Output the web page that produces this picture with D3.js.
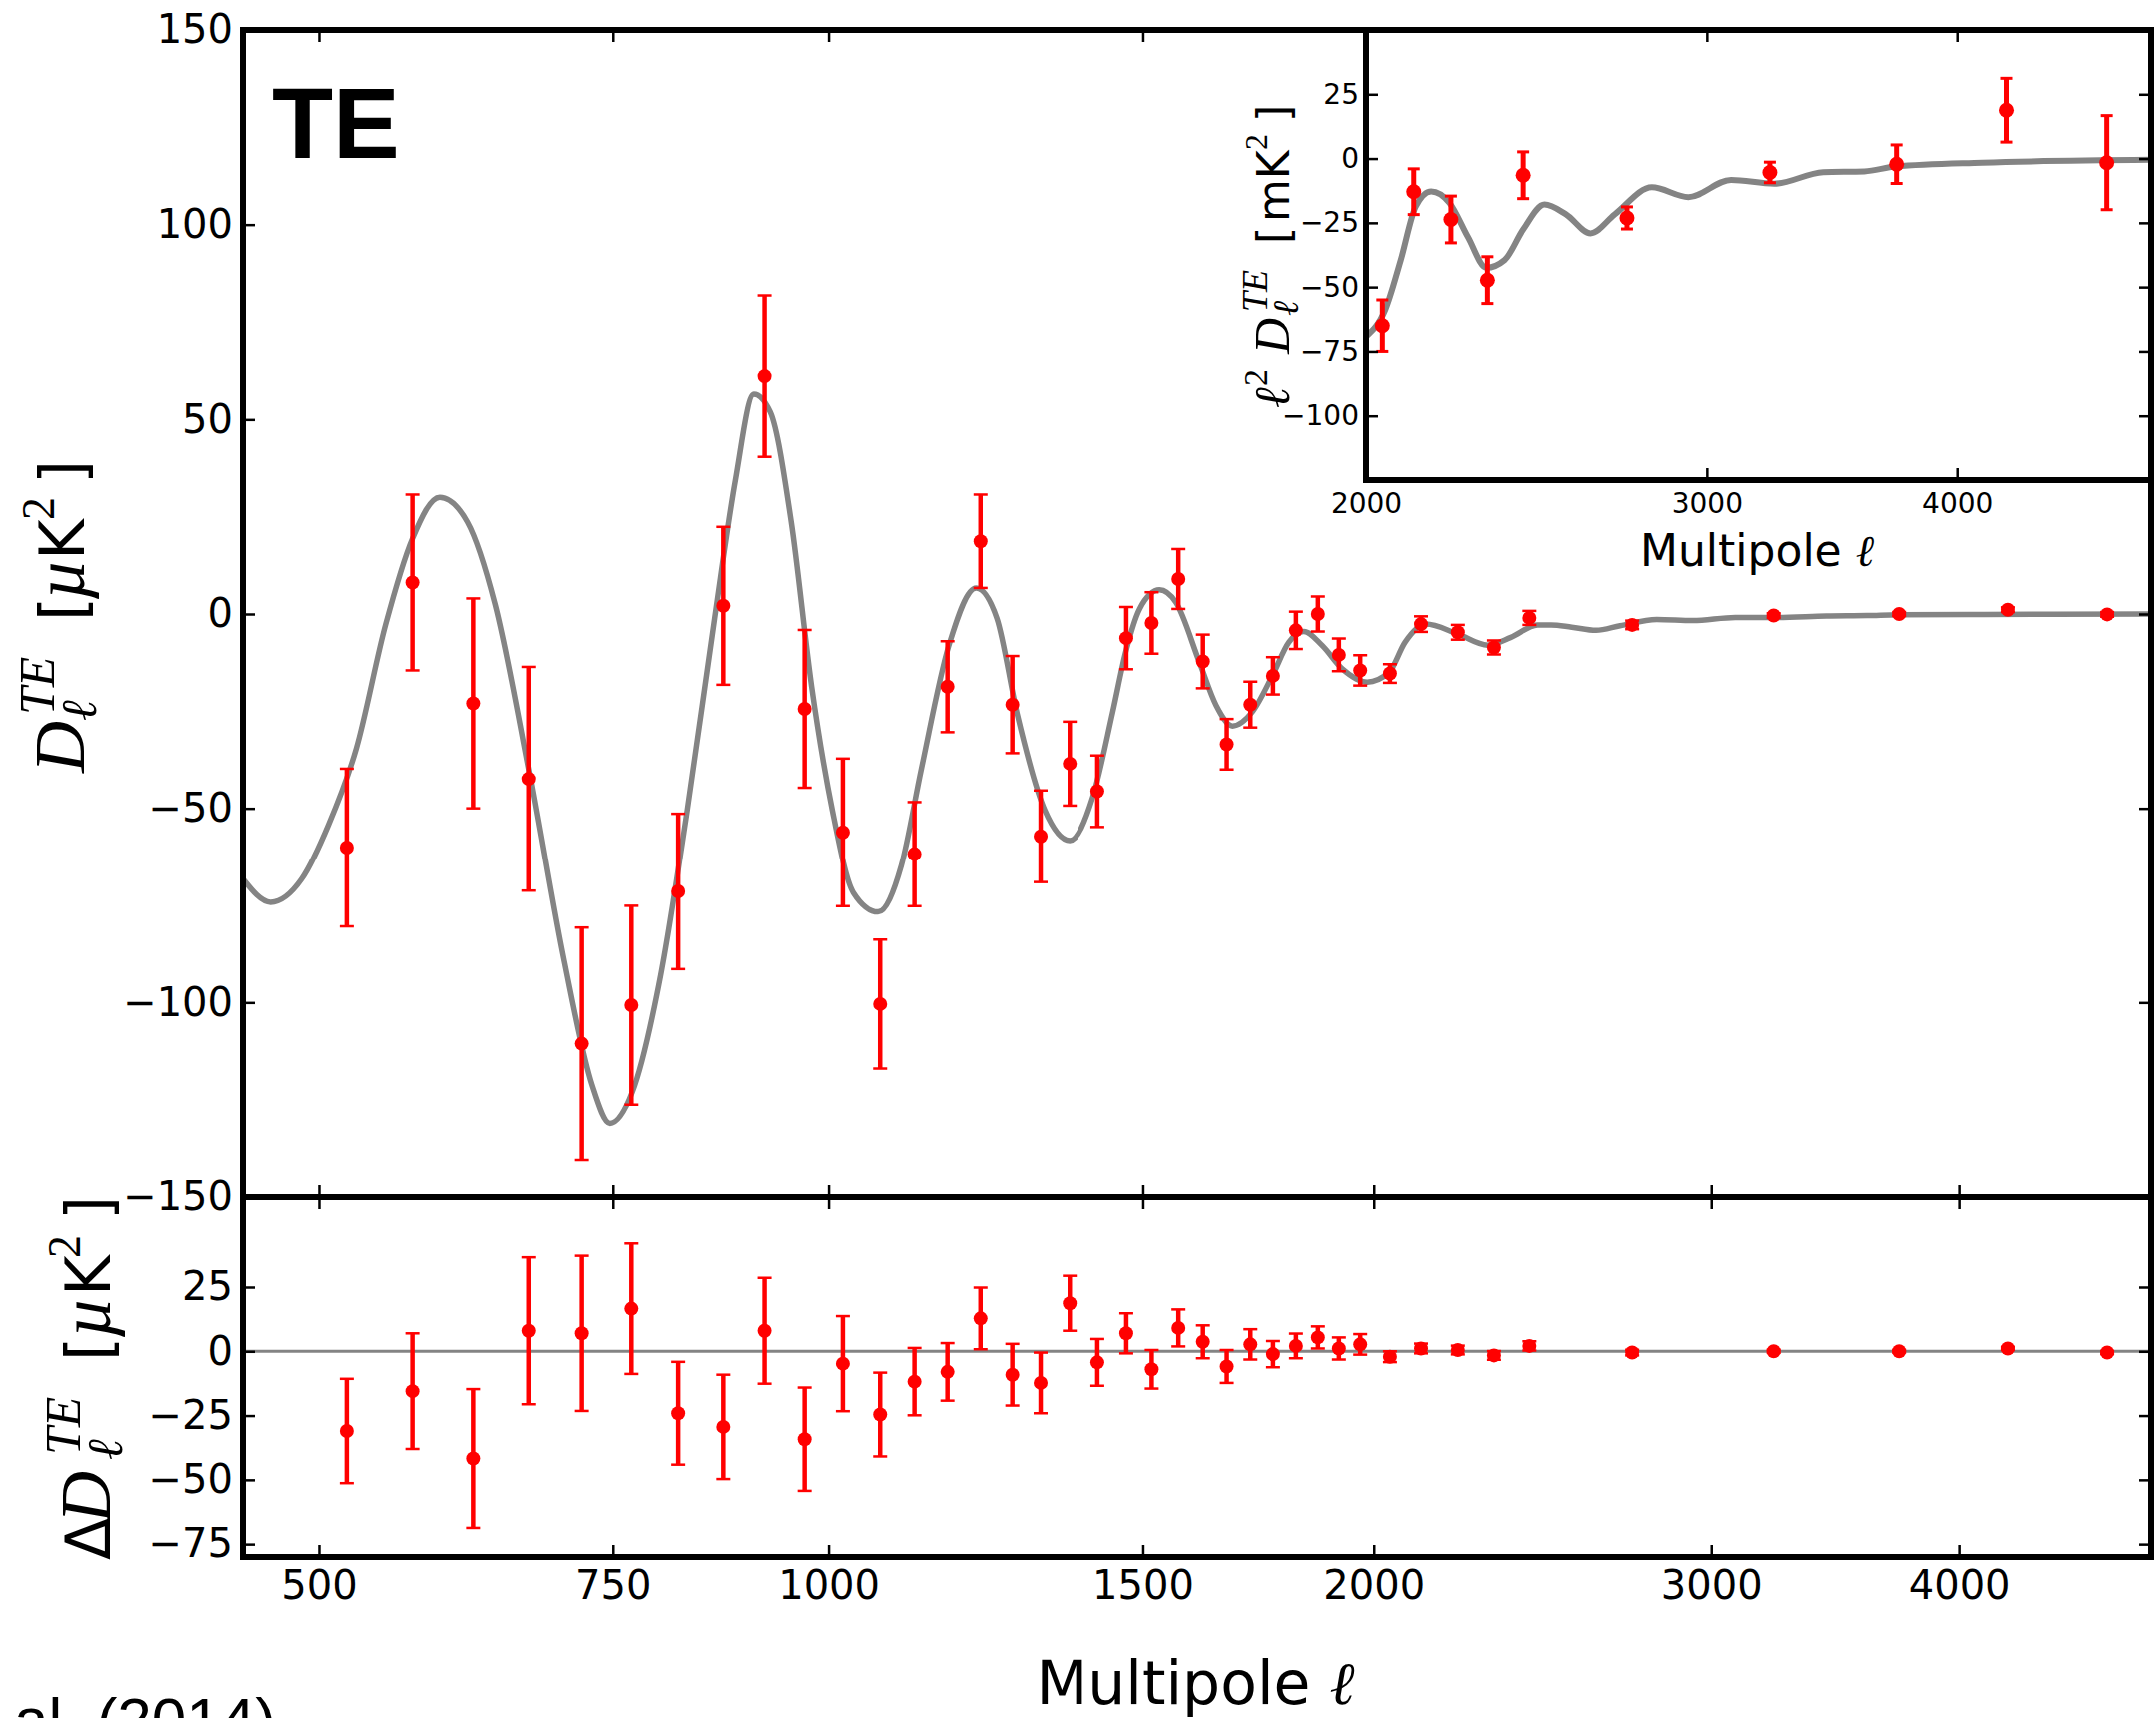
<!DOCTYPE html>
<html>
<head>
<meta charset="utf-8">
<script src="https://cdn.jsdelivr.net/npm/d3@7"></script>
<style>
body { margin: 0; background: #fff; }
svg { display: block; }
</style>
</head>
<body>
<div id="chart"></div>
<script>
// multipole bin centres, shared by the main and residual panels
var ells = [520, 570, 620, 669, 719, 769, 819, 870, 919, 969,
            1019, 1070, 1119, 1168, 1219, 1270, 1317, 1367, 1416, 1469,
            1517, 1569, 1618, 1667, 1717, 1766, 1817, 1867, 1916, 1967,
            2040, 2119, 2216, 2315, 2416, 2732, 3228, 3734, 4229, 4731]

// D_l^TE band powers and errors [uK^2]
var dTE = [-60.1, 8.1, -23.0, -42.4, -110.6, -100.7, -71.4, 2.1, 61.1, -24.4,
           -56.2, -100.4, -61.8, -18.7, 18.7, -23.3, -57.2, -38.5, -45.6, -6.2,
           -2.3, 9.0, -12.2, -33.5, -23.3, -15.9, -4.2, 0.0, -10.5, -14.5,
           -15.3, -2.6, -4.7, -8.6, -1.0, -2.8, -0.4, 0.0, 1.1, -0.1]
var dTEerr = [20.3, 22.6, 27, 28.8, 29.9, 25.6, 20, 20.3, 20.7, 20.3,
              19, 16.6, 13.4, 11.7, 12, 12.5, 11.8, 10.8, 9.2, 8.0,
              7.9, 7.7, 6.9, 6.5, 5.9, 4.8, 4.8, 4.5, 4.2, 3.9,
              2.4, 2.0, 1.9, 1.8, 1.8, 1.1, 0.6, 0.5, 0.6, 0.6]

// residuals (data - model)
var resid = [-31, -15.5, -41.7, 8.0, 7.0, 16.6, -24.1, -29.4, 8.0, -34.2,
             -4.8, -24.6, -11.8, -8.0, 12.8, -9.1, -12.3, 18.7, -4.3, 7.0,
             -7.0, 9.1, 3.7, -5.9, 2.7, -1.1, 2.1, 5.4, 1.1, 2.7,
             -2.1, 1.1, 0.5, -1.6, 2.1, -0.5, 0, 0, 1.1, -0.5]
var residErr = [20.3, 22.5, 27, 28.6, 30.2, 25.4, 20, 20.3, 20.6, 20.1,
                18.5, 16.3, 13.1, 11.2, 12, 12, 11.8, 10.7, 9.1, 7.8,
                7.5, 7.2, 6.4, 6.4, 5.9, 5.1, 4.8, 4.3, 4.3, 4.0,
                2.1, 1.9, 1.7, 1.7, 1.8, 1.1, 0.6, 0.5, 0.6, 0.6]

// inset: l^2 D_l^TE for the high-l bins
var insetEll = ells.slice(30)
var insetVal = [-65, -12.9, -23.7, -47.3, -6.5, -23.1, -5.4, -2.2, 18.8, -1.6]
var insetErr = [10, 8.9, 9.1, 9.1, 9.1, 4.3, 4, 7.5, 12.4, 18.3]

// best fit model
var modelEll = [449, 467, 488, 507, 527, 549, 570, 592, 615, 639,
                669, 702, 729, 747, 770, 800, 829, 860, 884, 906,
                926, 952, 978, 1005, 1033, 1067, 1100, 1129, 1170, 1212,
                1245, 1278, 1324, 1367, 1408, 1444, 1468, 1494, 1532, 1564,
                1611, 1645, 1679, 1721, 1765, 1801, 1835, 1877, 1924, 1984,
                2038, 2078, 2131, 2215, 2298, 2363, 2440, 2480, 2542, 2617,
                2693, 2813, 2936, 3086, 3244, 3433, 3599, 3729, 4116, 4970]
var modelTE = [-68.2, -74.2, -68.2, -54.1, -34.6, -2.8, 19.4, 30.0, 23.7, 2.5,
               -39.9, -89.4, -121.2, -131.1, -123, -92.9, -50.5, -1.1, 34.3, 56.5,
               51.9, 23.7, -18.7, -50.5, -71.7, -76.7, -64.7, -39.9, -8.1, 6.7,
               -1.1, -25.8, -50.5, -58.3, -47, -25.2, -9.8, 1.3, 6.2, 3.0,
               -12.4, -23.5, -28.8, -25.2, -15.8, -7.3, -4.5, -8.1, -14.1, -17.5,
               -15.0, -7.3, -2.6, -5.1, -8.0, -6.0, -2.8, -2.8, -3.4, -4.2,
               -3.0, -1.4, -1.7, -0.9, -0.9, -0.5, -0.4, -0.2, -0.1, 0]

var insetModelEll = [2000, 2047, 2086, 2124, 2164, 2212, 2262, 2312, 2363, 2416,
                     2478, 2542, 2617, 2693, 2813, 2936, 3086, 3244, 3433, 3599,
                     3729, 4116, 4970]
var insetModelVal = [-69.3, -58.9, -39.5, -18.7, -12.8, -17.2, -30.6, -42.5, -39.5, -27.6,
                     -17.9, -21.7, -29.1, -21.7, -11.2, -15.0, -8.3, -9.8, -5.3, -5.0,
                     -3.1, -1.6, -0.5]

var xTicks = [500, 750, 1000, 1500, 2000, 3000, 4000]
var yTicks = [-150, -100, -50, 0, 50, 100, 150]
var rTicks = [-75, -50, -25, 0, 25]
var iyTicks = [-100, -75, -50, -25, 0, 25]
var ixTicks = [2000, 3000, 4000]

var RED = '#ff0000', GREY = '#848484'
var SANS = 'DejaVu Sans', SERIF = 'Liberation Serif'

var W = 2157, H = 1719
var L = 243, R = 2152, T = 30, MB = 1198, RB = 1558
var IL = 1367, IB = 480

var svg = d3.select('#chart').append('svg').attr('width', W).attr('height', H)
svg.append('rect').attr('width', W).attr('height', H).attr('fill', '#fff')

var x = d3.scalePow().exponent(0.1).domain([449, 4970]).range([L, R])
var y = d3.scaleLinear().domain([-150, 150]).range([MB, T])
var yr = d3.scaleLinear().domain([-80, 60]).range([RB, MB])
var xi = d3.scalePow().exponent(0.1).domain([2000, 4970]).range([IL, R])
var yi = d3.scaleLinear().domain([-125, 50]).range([IB, T])

svg.append('clipPath').attr('id', 'mainclip').append('rect')
  .attr('x', L).attr('y', T).attr('width', R - L).attr('height', MB - T)

function styleAxis(g, size) {
  g.select('.domain').remove()
  g.selectAll('line').attr('stroke', '#000').attr('stroke-width', 2.5)
  g.selectAll('text').attr('font-family', SANS).attr('font-size', size).attr('fill', '#000')
}

function errorbars(g, xs, ys, ell, val, err, o) {
  var pts = ell.map(function (l, i) { return { l: l, v: val[i], e: err[i] } })
  var grp = g.append('g')
  grp.selectAll('line.bar').data(pts).enter().append('line')
    .attr('x1', function (d) { return xs(d.l) }).attr('x2', function (d) { return xs(d.l) })
    .attr('y1', function (d) { return ys(d.v - d.e) }).attr('y2', function (d) { return ys(d.v + d.e) })
    .attr('stroke', RED).attr('stroke-width', o.w)
  ;[-1, 1].forEach(function (s) {
    grp.selectAll('line.cap' + s).data(pts).enter().append('line')
      .attr('x1', function (d) { return xs(d.l) - o.cap }).attr('x2', function (d) { return xs(d.l) + o.cap })
      .attr('y1', function (d) { return ys(d.v + s * d.e) }).attr('y2', function (d) { return ys(d.v + s * d.e) })
      .attr('stroke', RED).attr('stroke-width', o.cw)
  })
  grp.selectAll('circle').data(pts).enter().append('circle')
    .attr('cx', function (d) { return xs(d.l) }).attr('cy', function (d) { return ys(d.v) })
    .attr('r', o.r).attr('fill', RED)
}

// ---- main panel
var line = d3.line()
  .x(function (d) { return x(d[0]) }).y(function (d) { return y(d[1]) })
  .curve(d3.curveMonotoneX)
svg.append('path').attr('clip-path', 'url(#mainclip)')
  .datum(modelEll.map(function (l, i) { return [l, modelTE[i]] }))
  .attr('d', line).attr('fill', 'none').attr('stroke', GREY).attr('stroke-width', 5.5)

errorbars(svg, x, y, ells, dTE, dTEerr, { w: 4.5, cap: 7, cw: 2.5, r: 7 })

styleAxis(svg.append('g').attr('transform', 'translate(' + L + ',0)')
  .call(d3.axisLeft(y).tickValues(yTicks).tickSize(-12).tickPadding(10)), 40)
styleAxis(svg.append('g').attr('transform', 'translate(' + R + ',0)')
  .call(d3.axisRight(y).tickValues(yTicks).tickSize(-12).tickFormat('')), 40)
styleAxis(svg.append('g').attr('transform', 'translate(0,' + T + ')')
  .call(d3.axisTop(x).tickValues(xTicks).tickSize(-12).tickFormat('')), 40)
styleAxis(svg.append('g').attr('transform', 'translate(0,' + MB + ')')
  .call(d3.axisBottom(x).tickValues(xTicks).tickSize(-12).tickFormat('')), 40)

svg.append('text').attr('x', 272).attr('y', 158)
  .attr('font-family', 'Liberation Sans').attr('font-weight', 'bold').attr('font-size', 100)
  .text('TE')

// ---- residual panel
svg.append('line').attr('x1', L).attr('x2', R).attr('y1', yr(0)).attr('y2', yr(0))
  .attr('stroke', GREY).attr('stroke-width', 3)
errorbars(svg, x, yr, ells, resid, residErr, { w: 4.5, cap: 7, cw: 2.5, r: 7 })

styleAxis(svg.append('g').attr('transform', 'translate(' + L + ',0)')
  .call(d3.axisLeft(yr).tickValues(rTicks).tickSize(-12).tickPadding(10)), 40)
styleAxis(svg.append('g').attr('transform', 'translate(' + R + ',0)')
  .call(d3.axisRight(yr).tickValues(rTicks).tickSize(-12).tickFormat('')), 40)
styleAxis(svg.append('g').attr('transform', 'translate(0,' + MB + ')')
  .call(d3.axisTop(x).tickValues(xTicks).tickSize(-12).tickFormat('')), 40)
styleAxis(svg.append('g').attr('transform', 'translate(0,' + RB + ')')
  .call(d3.axisBottom(x).tickValues(xTicks).tickSize(-12).tickPadding(14).tickFormat(d3.format('d'))), 40)

// ---- inset
svg.append('rect').attr('x', IL).attr('y', T).attr('width', R - IL).attr('height', IB - T).attr('fill', '#fff')
var iline = d3.line()
  .x(function (d) { return xi(d[0]) }).y(function (d) { return yi(d[1]) })
  .curve(d3.curveMonotoneX)
svg.append('path')
  .datum(insetModelEll.map(function (l, i) { return [l, insetModelVal[i]] }))
  .attr('d', iline).attr('fill', 'none').attr('stroke', GREY).attr('stroke-width', 6)
errorbars(svg, xi, yi, insetEll, insetVal, insetErr, { w: 5, cap: 6, cw: 3, r: 7.5 })

styleAxis(svg.append('g').attr('transform', 'translate(' + IL + ',0)')
  .call(d3.axisLeft(yi).tickValues(iyTicks).tickSize(-12).tickPadding(7)), 28)
styleAxis(svg.append('g').attr('transform', 'translate(' + R + ',0)')
  .call(d3.axisRight(yi).tickValues(iyTicks).tickSize(-12).tickFormat('')), 28)
styleAxis(svg.append('g').attr('transform', 'translate(0,' + T + ')')
  .call(d3.axisTop(xi).tickValues(ixTicks).tickSize(-12).tickFormat('')), 28)
styleAxis(svg.append('g').attr('transform', 'translate(0,' + IB + ')')
  .call(d3.axisBottom(xi).tickValues(ixTicks).tickSize(-12).tickPadding(13).tickFormat(d3.format('d'))), 28)

// ---- frames
;[[L, T, R, MB], [L, MB, R, RB], [IL, T, R, IB]].forEach(function (b) {
  svg.append('rect').attr('x', b[0]).attr('y', b[1]).attr('width', b[2] - b[0]).attr('height', b[3] - b[1])
    .attr('fill', 'none').attr('stroke', '#000').attr('stroke-width', 6)
})

// ---- axis titles
function multipole(xc, yb, size) {
  var t = svg.append('text').attr('x', xc).attr('y', yb).attr('text-anchor', 'middle')
    .attr('font-family', SANS).attr('font-size', size)
  t.append('tspan').text('Multipole ')
  t.append('tspan').attr('font-family', SERIF).attr('font-style', 'italic').text('ℓ')
}
multipole(1196, 1705, 60)
multipole(1758, 566, 44)

// rotated y-axis title made of pieces: [text, offset along axis, baseline shift, size, family, italic]
function ytitle(xb, yc, parts) {
  var g = svg.append('g').attr('transform', 'translate(' + xb + ',' + yc + ') rotate(-90)')
  parts.forEach(function (p) {
    g.append('text').attr('x', p[1]).attr('y', p[2]).attr('font-size', p[3])
      .attr('font-family', p[4]).attr('font-style', p[5] ? 'italic' : 'normal').text(p[0])
  })
}
ytitle(84, 617, [
  ['D', -156, 0, 72, SERIF, 1], ['TE', -98, -30, 50, SERIF, 1], ['ℓ', -104, 12, 50, SERIF, 1],
  ['[', -4, 0, 62, SANS, 0], ['µ', 17, 0, 72, SERIF, 1], ['K', 57, 0, 62, SANS, 0],
  ['2', 97, -30, 46, SERIF, 0], [']', 133, 0, 62, SANS, 0]])
ytitle(110, 1381, [
  ['Δ', -180, 0, 62, SANS, 0], ['D', -143, 0, 72, SERIF, 1], ['TE', -75, -30, 50, SERIF, 1],
  ['ℓ', -80, 12, 50, SERIF, 1],
  ['[', 19, 0, 62, SANS, 0], ['µ', 42, 0, 72, SERIF, 1], ['K', 84, 0, 62, SANS, 0],
  ['2', 122, -30, 46, SERIF, 0], [']', 160, 0, 62, SANS, 0]])
ytitle(1290, 262, [
  ['ℓ', -146, 0, 50, SERIF, 1], ['2', -124, -22, 34, SERIF, 0],
  ['D', -92, 0, 50, SERIF, 1], ['TE', -50, -22, 36, SERIF, 1], ['ℓ', -54, 9, 36, SERIF, 1],
  ['[', 18, 0, 44, SANS, 0], ['mK', 40, 0, 44, SANS, 0], ['2', 112, -22, 32, SERIF, 0],
  [']', 140, 0, 44, SANS, 0]])

// clipped citation at the bottom edge
svg.append('text').attr('x', 14).attr('y', 1742)
  .attr('font-family', 'Liberation Sans').attr('font-size', 62).text('al. (2014)')
</script>
</body>
</html>
